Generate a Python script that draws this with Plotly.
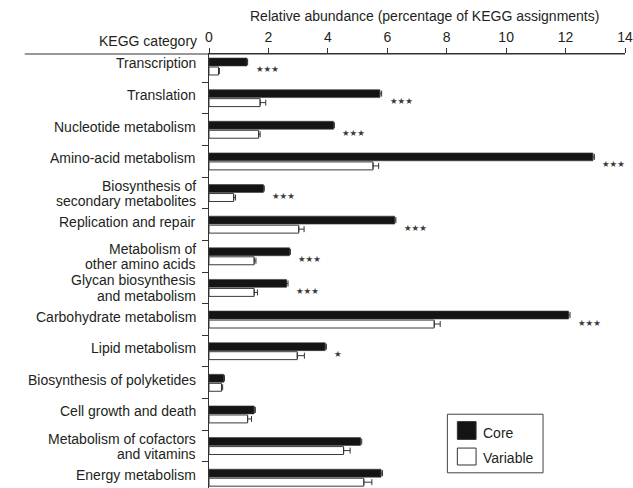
import plotly.graph_objects as go

# KEGG functional categories (top to bottom); "\n" marks a wrapped label
categories = [
    "Transcription",
    "Translation",
    "Nucleotide metabolism",
    "Amino-acid metabolism",
    "Biosynthesis of\nsecondary metabolites",
    "Replication and repair",
    "Metabolism of\nother amino acids",
    "Glycan biosynthesis\nand metabolism",
    "Carbohydrate metabolism",
    "Lipid metabolism",
    "Biosynthesis of polyketides",
    "Cell growth and death",
    "Metabolism of cofactors\nand vitamins",
    "Energy metabolism",
]

# Relative abundance (% of KEGG assignments) with standard errors
core = [1.28, 5.75, 4.19, 12.92, 1.83, 6.25, 2.71, 2.61, 12.10, 3.91, 0.50, 1.52, 5.10, 5.79]
core_err = [0.02, 0.06, 0.03, 0.05, 0.03, 0.04, 0.03, 0.05, 0.05, 0.04, 0.02, 0.04, 0.04, 0.05]
variable = [0.32, 1.72, 1.67, 5.52, 0.83, 3.02, 1.52, 1.52, 7.58, 2.97, 0.42, 1.30, 4.53, 5.21]
variable_err = [0.03, 0.19, 0.05, 0.19, 0.06, 0.18, 0.06, 0.11, 0.20, 0.24, 0.04, 0.13, 0.22, 0.27]

# Significance of core vs variable difference
significance = ["***", "***", "***", "***", "***", "***", "***", "***", "***", "*", "", "", "", ""]

x_ticks = [0, 2, 4, 6, 8, 10, 12, 14]

FONT = "Liberation Sans, Arial, sans-serif"
INK = "#231f20"

positions = list(range(len(categories)))

fig = go.Figure()
fig.add_trace(go.Bar(
    name="Core", orientation="h", y=positions, x=core,
    marker=dict(color="#141414", line=dict(color="#3a3a3a", width=0.6)),
    error_x=dict(type="data", symmetric=False, array=core_err,
                 arrayminus=[0] * len(core_err), color="#333", thickness=1, width=3),
    showlegend=False,
))
fig.add_trace(go.Bar(
    name="Variable", orientation="h", y=positions, x=variable,
    marker=dict(color="white", line=dict(color="#3a3a3a", width=1)),
    error_x=dict(type="data", symmetric=False, array=variable_err,
                 arrayminus=[0] * len(variable_err), color="#333", thickness=1, width=3),
    showlegend=False,
))

annotations = []

# category labels, right-aligned against the axis, wrapped lines kept tight
for i, label in enumerate(categories):
    lines = label.split("\n")
    n = len(lines)
    for k, line in enumerate(lines):
        offset = 3 if n == 1 else (7.5 - 15.5 * k)
        annotations.append(dict(
            x=0, y=i, xref="paper", yref="y", xanchor="right", yanchor="middle",
            xshift=-11, yshift=offset, text=line, showarrow=False,
            font=dict(family=FONT, size=14, color=INK),
        ))

# significance stars to the right of each core bar
for i, s in enumerate(significance):
    if not s:
        continue
    annotations.append(dict(
        x=core[i] + core_err[i], y=i, xref="x", yref="y",
        text="\u2605" * len(s), showarrow=False, xanchor="left", yanchor="middle",
        xshift=6, yshift=-3, font=dict(family="DejaVu Sans", size=8.5, color="#3a3a3a"),
    ))

# axis titles
annotations.append(dict(
    x=0.519, y=1, xref="paper", yref="paper", yshift=38, yanchor="middle",
    text="Relative abundance (percentage of KEGG assignments)", showarrow=False,
    font=dict(family=FONT, size=14, color=INK),
))
annotations.append(dict(
    x=0, y=1, xref="paper", yref="paper", xanchor="right", yanchor="middle",
    xshift=-10, yshift=13, text="KEGG category", showarrow=False,
    font=dict(family=FONT, size=14, color=INK),
))

# legend box
annotations.append(dict(x=0.655, y=0.127, xref="paper", yref="paper", xanchor="left",
                        yanchor="middle", text="Core", showarrow=False,
                        font=dict(family=FONT, size=14, color=INK)))
annotations.append(dict(x=0.655, y=0.069, xref="paper", yref="paper", xanchor="left",
                        yanchor="middle", text="Variable", showarrow=False,
                        font=dict(family=FONT, size=14, color=INK)))

shapes = [
    # top axis line extended left over the category column
    dict(type="line", xref="paper", yref="paper", x0=-0.443, x1=1.0, y0=1, y1=1,
         line=dict(color="#333", width=1)),
    dict(type="rect", xref="paper", yref="paper", x0=0.573, x1=0.803, y0=0.035, y1=0.170,
         line=dict(color="#444", width=1), fillcolor="white"),
    dict(type="rect", xref="paper", yref="paper", x0=0.597, x1=0.642, y0=0.112, y1=0.153,
         line=dict(color="#333", width=1), fillcolor="#141414"),
    dict(type="rect", xref="paper", yref="paper", x0=0.597, x1=0.642, y0=0.053, y1=0.092,
         line=dict(color="#333", width=1), fillcolor="white"),
]

fig.update_layout(
    width=633, height=488,
    margin=dict(l=209, r=4, t=54, b=0, pad=0),
    paper_bgcolor="white", plot_bgcolor="white",
    barmode="group", bargap=0.43, bargroupgap=0.12,
    font=dict(family=FONT, size=14, color=INK),
    annotations=annotations, shapes=shapes,
    xaxis=dict(
        side="top", range=[0, 14.0001], tickvals=x_ticks, ticktext=[str(v) for v in x_ticks],
        ticks="outside", ticklen=5, tickcolor="#333", showline=True, linecolor="#333",
        linewidth=1, showgrid=False, zeroline=False, tickfont=dict(size=14, color=INK),
        ticklabeloverflow="allow",
    ),
    yaxis=dict(
        range=[13.326, -0.395], tickvals=positions, showticklabels=False,
        ticks="", showline=True, linecolor="#333", linewidth=1,
        showgrid=False, zeroline=False,
        minor=dict(tickmode="array", tickvals=[p + 0.5 for p in positions[:-1]],
                   ticks="outside", ticklen=6, tickcolor="#333", showgrid=False),
    ),
)

fig.write_html("out.html")
